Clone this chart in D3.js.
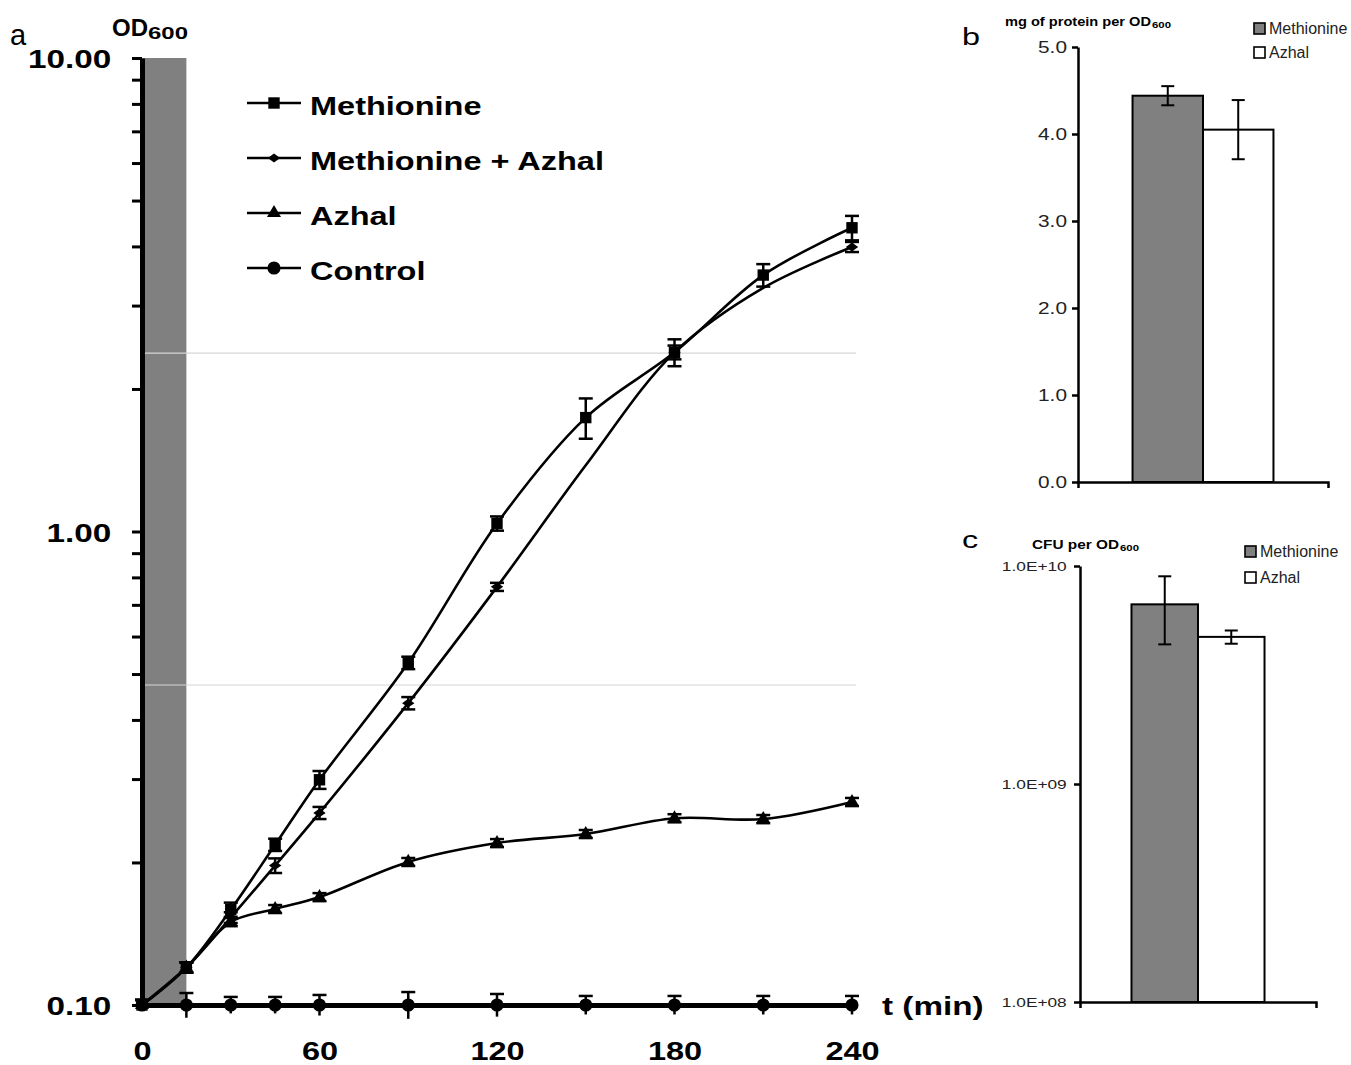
<!DOCTYPE html>
<html><head><meta charset="utf-8">
<script src="https://cdn.jsdelivr.net/npm/d3@7"></script>
<style>body{margin:0;background:#fff} svg{display:block}</style>
</head><body>
<svg id="chart" width="1351" height="1065"></svg>
<script>
// ---------- Panel a data ----------
const times = [0, 15, 30, 45, 60, 90, 120, 150, 180, 210, 240];
const methionine    = [0.10, 0.12, 0.159, 0.218, 0.299, 0.528, 1.04, 1.74, 2.39, 3.48, 4.38];
const methionineErr = [0.0025, 0.003, 0.0055, 0.0065, 0.013, 0.016, 0.036, 0.17, 0.156, 0.19, 0.26];
const metAzhal      = [0.10, 0.12, 0.153, 0.197, 0.2545, 0.434, 0.764, 1.38, 2.39, 3.27, 3.99];
const metAzhalErr   = [0.0025, 0.003, 0.004, 0.007, 0.0075, 0.013, 0.015, 0, 0.08, 0, 0.098];
const metAzhalShown = [1, 1, 1, 1, 1, 1, 1, 0, 1, 0, 1];
const azhal         = [0.10, 0.12, 0.1497, 0.1595, 0.169, 0.2005, 0.2198, 0.2297, 0.248, 0.247, 0.2684];
const azhalErr      = [0.0025, 0.003, 0.003, 0.0031, 0.0033, 0.0039, 0.0043, 0.0045, 0.0049, 0.0049, 0.0053];
const control       = [0.10, 0.10, 0.10, 0.10, 0.10, 0.10, 0.10, 0.10, 0.10, 0.10, 0.10];
const controlErr    = [0.0025, 0.006, 0.004, 0.004, 0.005, 0.0065, 0.0055, 0.0045, 0.0045, 0.0045, 0.0045];
const legendNames = ["Methionine", "Methionine + Azhal", "Azhal", "Control"];
const xTicksA = [0, 60, 120, 180, 240];
const yDomainA = [0.1, 10];
const xDomainA = [0, 240];
const shadeSpan = [0, 15];
const gridValuesA = [0.474, 2.38];

// ---------- Panel b data ----------
const barSeries = ["Methionine", "Azhal"];
const barFills = ["#808080", "#ffffff"];
const barGroup = [""];
const proteinValues = [4.44, 4.05];
const proteinErr = [0.11, 0.34];
const proteinTicks = [0, 1, 2, 3, 4, 5];

// ---------- Panel c data ----------
const cfuValues = [6.67e9, 4.73e9];
const cfuErr = [2.3e9, 0.33e9];
const cfuTicks = [1e8, 1e9, 1e10];

const FONT = "'Liberation Sans', Arial, Helvetica, sans-serif";
const svg = d3.select("#chart").attr("font-family", FONT);

// =============== Panel a ===============
const xA = d3.scaleLinear().domain(xDomainA).range([142, 852]);
const yA = d3.scaleLog().domain(yDomainA).range([1005, 58]);
const gA = svg.append("g");
const SX = 1.28;

gA.append("rect")
  .attr("x", xA(shadeSpan[0])).attr("width", xA(shadeSpan[1]) - xA(shadeSpan[0]))
  .attr("y", yA(yDomainA[1])).attr("height", yA(yDomainA[0]) - yA(yDomainA[1]))
  .attr("fill", "#808080");

gA.selectAll("line.grid").data(gridValuesA).join("line")
  .attr("x1", xA.range()[0] + 3).attr("x2", xA.range()[1] + 4)
  .attr("y1", d => yA(d)).attr("y2", d => yA(d))
  .attr("stroke", "#d6d6d6").attr("stroke-width", 1.2);

// y axis
const yAxisA = d3.axisLeft(yA).tickValues(yA.ticks()).tickSize(10).tickSizeOuter(0).tickPadding(14)
  .tickFormat(d => Math.abs(Math.log10(d) - Math.round(Math.log10(d))) < 1e-9 ? d3.format(".2f")(d) : "");
const gyA = gA.append("g").attr("transform", `translate(${xA(0)},0)`).call(yAxisA);
gyA.select(".domain").attr("stroke", "#000").attr("stroke-width", 5);
gyA.selectAll(".tick line").attr("stroke", "#000").attr("stroke-width", 3);
gyA.selectAll(".tick text").attr("font-size", 26).attr("font-weight", "bold").attr("fill", "#000")
  .attr("dy", "0.38em").attr("transform", `scale(${SX},1)`);

// x axis
const xAxisA = d3.axisBottom(xA).tickValues(xTicksA).tickSize(0).tickSizeOuter(0).tickPadding(37);
const gxA = gA.append("g").attr("transform", `translate(0,${yA(yDomainA[0])})`).call(xAxisA);
gxA.select(".domain").attr("stroke", "#000").attr("stroke-width", 5);
gxA.selectAll(".tick text").attr("font-size", 25).attr("font-weight", "bold").attr("fill", "#000")
  .attr("transform", `scale(${SX + 0.02},1)`);

// markers
const diamondFlat = { draw(ctx, size) { const w = Math.sqrt(size) * 0.62, h = w * 0.72;
  ctx.moveTo(-w, 0); ctx.lineTo(0, -h); ctx.lineTo(w, 0); ctx.lineTo(0, h); ctx.closePath(); } };
const symbols = [
  d3.symbol(d3.symbolSquare, 130),
  d3.symbol(diamondFlat, 100),
  d3.symbol(d3.symbolTriangle, 85),
  d3.symbol(d3.symbolCircle, 135)
];

const seriesA = [
  { values: methionine, err: methionineErr, shown: times.map(() => 1) },
  { values: metAzhal, err: metAzhalErr, shown: metAzhalShown },
  { values: azhal, err: azhalErr, shown: times.map(() => 1) },
  { values: control, err: controlErr, shown: times.map(() => 1) }
];

const line = d3.line().x((d, i) => xA(times[i])).y(d => yA(d)).curve(d3.curveCatmullRom.alpha(0.5));
const capW = 7;
[3, 2, 1, 0].forEach(si => {
  const s = seriesA[si];
  const g = gA.append("g");
  g.append("path").attr("d", line(s.values)).attr("fill", "none").attr("stroke", "#000")
    .attr("stroke-width", si === 3 ? 3 : 2.6);
  const pts = s.values.map((v, i) => ({ t: times[i], v, e: s.err[i], shown: s.shown[i] })).filter(p => p.shown);
  pts.filter(p => p.e > 0).forEach(p => {
    const x = xA(p.t), hi = p.v + p.e, lo = p.v - p.e;
    g.append("line").attr("x1", x).attr("x2", x).attr("y1", yA(lo)).attr("y2", yA(hi))
      .attr("stroke", "#000").attr("stroke-width", 2.5);
    [hi, lo].filter(b => b >= yDomainA[0]).forEach(b => {
      g.append("line").attr("x1", x - capW).attr("x2", x + capW).attr("y1", yA(b)).attr("y2", yA(b))
        .attr("stroke", "#000").attr("stroke-width", 2.5);
    });
  });
  g.selectAll("path.m").data(pts).join("path").attr("class", "m")
    .attr("d", symbols[si]).attr("transform", p => `translate(${xA(p.t)},${yA(p.v)})`).attr("fill", "#000");
});

// legend a
const legA = gA.append("g");
legendNames.forEach((name, i) => {
  const y = 103 + i * 55;
  legA.append("line").attr("x1", 247).attr("x2", 301).attr("y1", y).attr("y2", y)
    .attr("stroke", "#000").attr("stroke-width", 2.6);
  legA.append("path").attr("d", symbols[i]).attr("transform", `translate(274,${y})`).attr("fill", "#000");
  legA.append("g").attr("transform", `translate(310,${y + 12})`)
    .append("text").attr("font-size", 25).attr("font-weight", "bold").attr("transform", `scale(${SX + 0.02},1)`).text(name);
});

// labels a
svg.append("text").attr("x", 10).attr("y", 45).attr("font-size", 29).text("a");
svg.append("text").attr("x", 112).attr("y", 36).attr("font-size", 24).attr("font-weight", "bold").text("OD");
svg.append("text").attr("x", 148).attr("y", 39).attr("font-size", 17).attr("font-weight", "bold")
  .attr("textLength", 40).attr("lengthAdjust", "spacingAndGlyphs").text("600");
svg.append("g").attr("transform", "translate(882,1015)").append("text")
  .attr("font-size", 26).attr("font-weight", "bold").attr("transform", `scale(${SX},1)`).text("t (min)");

// =============== Bar panels ===============
function barPanel(opt) {
  const g = svg.append("g");
  const xO = d3.scaleBand().domain(barGroup).range([opt.x0, opt.x1]).paddingOuter(0.387);
  const xI = d3.scaleBand().domain(barSeries).range([xO(barGroup[0]), xO(barGroup[0]) + xO.bandwidth()]);
  const y = opt.y;
  const base = y.range()[0];
  g.selectAll("rect.bar").data(opt.values).join("rect").attr("class", "bar")
    .attr("x", (d, i) => xI(barSeries[i])).attr("width", xI.bandwidth())
    .attr("y", d => y(d)).attr("height", d => base - y(d))
    .attr("fill", (d, i) => barFills[i]).attr("stroke", "#000").attr("stroke-width", 2);
  opt.values.forEach((v, i) => {
    const cx = xI(barSeries[i]) + xI.bandwidth() / 2;
    const hi = v + opt.err[i], lo = v - opt.err[i];
    g.append("line").attr("x1", cx).attr("x2", cx).attr("y1", y(lo)).attr("y2", y(hi)).attr("stroke", "#000").attr("stroke-width", 2);
    [hi, lo].forEach(b => g.append("line").attr("x1", cx - 6.5).attr("x2", cx + 6.5).attr("y1", y(b)).attr("y2", y(b))
      .attr("stroke", "#000").attr("stroke-width", 2));
  });
  const gx = g.append("g").attr("transform", `translate(0,${base})`)
    .call(d3.axisBottom(xO).tickSize(0).tickSizeOuter(6).tickFormat(""));
  gx.select(".domain").attr("stroke", "#000").attr("stroke-width", 2.5);
  const gy = g.append("g").attr("transform", `translate(${opt.x0},0)`)
    .call(d3.axisLeft(y).tickValues(opt.ticks).tickSize(6).tickSizeOuter(0).tickPadding(opt.pad).tickFormat(opt.fmt));
  gy.select(".domain").attr("stroke", "#000").attr("stroke-width", 2.5);
  gy.selectAll(".tick line").attr("stroke", "#000").attr("stroke-width", 2.5);
  gy.selectAll(".tick text").attr("font-size", opt.fs).attr("fill", "#222").attr("dy", "0.36em")
    .attr("transform", `scale(${opt.sx},1)`);
  barSeries.forEach((s, i) => {
    const ly = opt.legY + i * opt.legStep;
    g.append("rect").attr("x", opt.legX).attr("y", ly - 11).attr("width", 11).attr("height", 11)
      .attr("fill", barFills[i]).attr("stroke", "#000").attr("stroke-width", 1.6);
    g.append("text").attr("x", opt.legX + 15).attr("y", ly).attr("font-size", 16).attr("fill", "#222").text(s);
  });
  g.append("text").attr("x", opt.tx).attr("y", opt.ty).attr("font-size", 12).attr("font-weight", "bold")
    .attr("textLength", opt.tLen).attr("lengthAdjust", "spacingAndGlyphs").text(opt.title);
  g.append("text").attr("x", opt.tx + opt.tLen + 1).attr("y", opt.ty + 2).attr("font-size", 9).attr("font-weight", "bold")
    .attr("textLength", 19).attr("lengthAdjust", "spacingAndGlyphs").text("600");
  g.append("g").attr("transform", `translate(${opt.lx},${opt.ly})`).append("text")
    .attr("font-size", opt.lfs).attr("transform", "scale(1.35,1)").text(opt.letter);
}

barPanel({
  x0: 1078, x1: 1328, y: d3.scaleLinear().domain([0, 5]).range([482, 47]),
  values: proteinValues, err: proteinErr, ticks: proteinTicks, fmt: d3.format(".1f"),
  pad: 2.5, fs: 16, sx: 1.3, legX: 1254, legY: 34, legStep: 24,
  title: "mg of protein per OD", tx: 1005, ty: 26, tLen: 146,
  letter: "b", lx: 962, ly: 45, lfs: 24
});

barPanel({
  x0: 1080, x1: 1316, y: d3.scaleLog().domain([1e8, 1e10]).range([1002, 566]),
  values: cfuValues, err: cfuErr, ticks: cfuTicks,
  fmt: d => "1.0E+" + String(Math.round(Math.log10(d))).padStart(2, "0"),
  pad: 4, fs: 13, sx: 1.33, legX: 1245, legY: 557, legStep: 26,
  title: "CFU per OD", tx: 1032, ty: 549, tLen: 87,
  letter: "c", lx: 962, ly: 548, lfs: 24
});
</script>
</body></html>
